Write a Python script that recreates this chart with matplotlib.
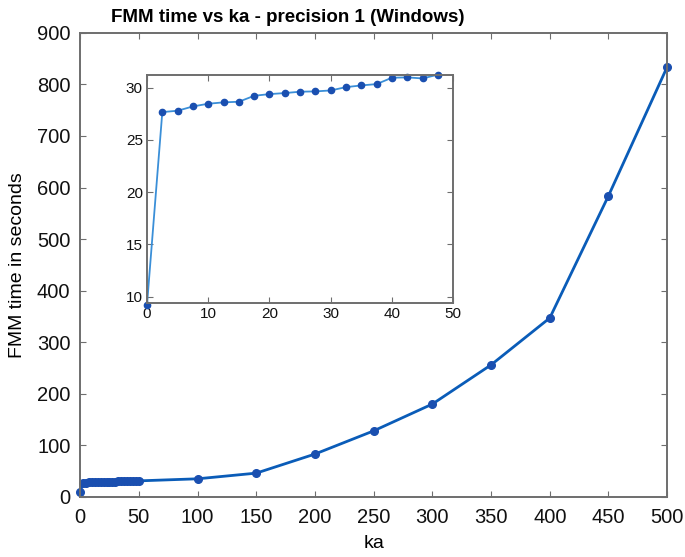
import matplotlib.pyplot as plt
import numpy as np

plt.rcParams['font.family'] = ['Liberation Sans', 'DejaVu Sans']

# FMM run time (seconds) vs ka, precision 1
ka_small = [0, 2.5, 5, 7.5, 10, 12.5, 15, 17.5, 20, 22.5, 25, 27.5, 30,
            32.5, 35, 37.5, 40, 42.5, 45, 47.5]
time_small = [9.23, 27.67, 27.8, 28.21, 28.47, 28.6, 28.66, 29.23, 29.39, 29.49,
              29.62, 29.65, 29.74, 30.06, 30.22, 30.35, 30.96, 30.99, 30.89, 31.25]
ka_large = [50, 100, 150, 200, 250, 300, 350, 400, 450, 500]
time_large = [31, 35, 46, 83, 128, 180, 256, 347, 584, 834]

ka_all = ka_small + ka_large
time_all = time_small + time_large

blue = '#0a5cb8'
light_blue = '#3a8fd8'
edge = '#6e6e6e'


def style_axes(ax, size):
    for s in ax.spines.values():
        s.set_color(edge)
        s.set_linewidth(1.4)
    ax.tick_params(direction='in', top=True, right=True, colors=edge,
                   labelcolor='#111111', labelsize=size, length=4)


fig = plt.figure(figsize=(6.85, 5.57), dpi=100)
ax = fig.add_axes([0.117, 0.108, 0.857, 0.833])
ax.plot(ka_all, time_all, '-', color=blue, lw=2, marker='o', ms=5.5,
        mfc='#1a4fb0', mec='#1a4fb0', clip_on=False)
ax.set_xlim(0, 500)
ax.set_ylim(0, 900)
ax.set_xticks(np.arange(0, 501, 50))
ax.set_yticks(np.arange(0, 901, 100))
style_axes(ax, 14.5)
ax.tick_params(axis='x', pad=8)
ax.tick_params(axis='y', pad=7)
ax.set_xlabel('ka', fontsize=14, labelpad=6)
ax.set_ylabel('FMM time in seconds', fontsize=14, labelpad=8)
fig.text(0.42, 0.969, 'FMM time vs ka - precision 1 (Windows)', fontsize=13.5,
         fontweight='bold', ha='center', va='center')

# zoomed view of the small-ka range
ins = fig.add_axes([0.2146, 0.456, 0.447, 0.409])
ins.plot(ka_small, time_small, '-', color=light_blue, lw=1.3, marker='o',
         ms=4.5, mfc='#1a4fb0', mec='#1a4fb0', clip_on=False)
ins.set_xlim(0, 50)
ins.set_ylim(9.4, 31.2)
ins.set_xticks(np.arange(0, 51, 10))
ins.set_yticks([10, 15, 20, 25, 30])
style_axes(ins, 11)
ins.tick_params(pad=3)
ins.set_facecolor('white')

fig.savefig('out.png', dpi=100)
